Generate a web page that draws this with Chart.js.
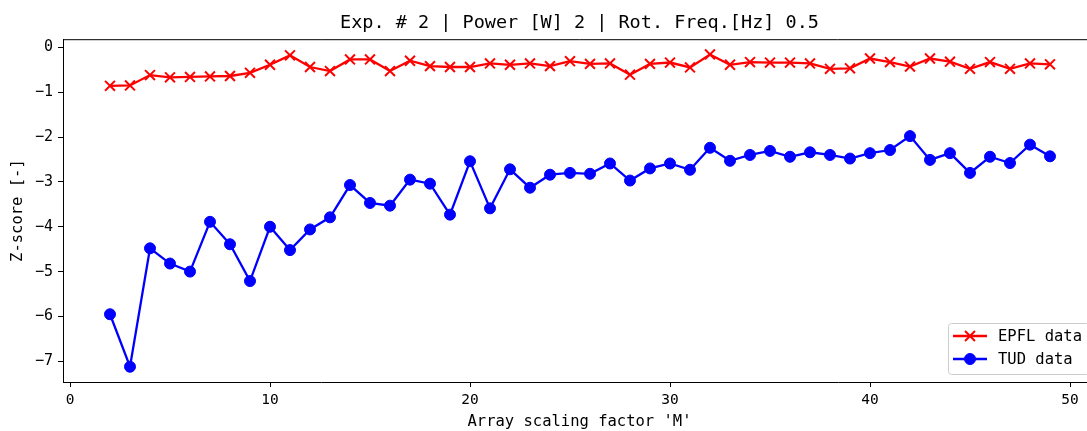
<!DOCTYPE html>
<html>
<head>
<meta charset="utf-8">
<script src="https://cdn.jsdelivr.net/npm/chart.js@4/dist/chart.umd.min.js"></script>
<style>
  html, body { margin: 0; padding: 0; background: #fff; overflow: hidden; }
  #zChart { display: block; }
</style>
</head>
<body>
<!-- canvas is a bit wider than the window: the original axes run past the right edge -->
<canvas id="zChart" width="1105" height="431"></canvas>
<script>
// scaling factor M (x values)
const mValues = [2, 3, 4, 5, 6, 7, 8, 9, 10, 11, 12, 13, 14, 15, 16, 17, 18, 19, 20, 21, 22, 23, 24, 25,
                 26, 27, 28, 29, 30, 31, 32, 33, 34, 35, 36, 37, 38, 39, 40, 41, 42, 43, 44, 45, 46, 47, 48, 49];

// z-scores
const epflScores = [-0.86, -0.85, -0.62, -0.67, -0.66, -0.65, -0.64, -0.57, -0.39, -0.18, -0.44, -0.53,
                    -0.27, -0.27, -0.53, -0.30, -0.42, -0.44, -0.44, -0.36, -0.39, -0.36, -0.42, -0.31,
                    -0.37, -0.36, -0.61, -0.37, -0.34, -0.45, -0.16, -0.39, -0.33, -0.34, -0.34, -0.36,
                    -0.48, -0.47, -0.25, -0.33, -0.43, -0.25, -0.32, -0.48, -0.33, -0.48, -0.36, -0.38];
const tudScores = [-5.95, -7.12, -4.48, -4.82, -5.00, -3.89, -4.39, -5.21, -4.00, -4.52, -4.06, -3.79,
                   -3.07, -3.47, -3.53, -2.95, -3.04, -3.73, -2.54, -3.59, -2.72, -3.13, -2.84, -2.80,
                   -2.82, -2.59, -2.97, -2.70, -2.59, -2.73, -2.24, -2.53, -2.40, -2.31, -2.44, -2.34,
                   -2.40, -2.48, -2.36, -2.29, -1.98, -2.51, -2.36, -2.80, -2.44, -2.58, -2.17, -2.43];

const xTicks = [0, 10, 20, 30, 40, 50];
const yTicks = [0, -1, -2, -3, -4, -5, -6, -7];
const seriesNames = ['EPFL data', 'TUD data'];

const monoFont = "'DejaVu Sans Mono', monospace";

// turn two arrays into {x, y} points
function toPoints(xs, ys) {
    return xs.map((x, i) => ({ x: x, y: ys[i] }));
}

// draw top and right frame lines (matplotlib style box)
const framePlugin = {
    id: 'frame',
    afterDraw(chart) {
        const { ctx, chartArea } = chart;
        ctx.save();
        ctx.strokeStyle = '#000';
        ctx.lineWidth = 1;
        ctx.beginPath();
        ctx.moveTo(chartArea.left, chartArea.top + 0.5);
        ctx.lineTo(chartArea.right - 0.5, chartArea.top + 0.5);
        ctx.lineTo(chartArea.right - 0.5, chartArea.bottom);
        ctx.stroke();
        ctx.restore();
    }
};

// legend box in the lower right corner of the axes
const cornerLegend = {
    id: 'cornerLegend',
    afterDraw(chart) {
        const { ctx, chartArea } = chart;
        const boxLeft = chartArea.right - 148;
        const boxTop = chartArea.bottom - 59;
        const boxW = 141, boxH = 51;
        ctx.save();
        ctx.beginPath();
        ctx.roundRect(boxLeft + 0.5, boxTop + 0.5, boxW, boxH, 3);
        ctx.fillStyle = 'rgba(255,255,255,0.8)';
        ctx.fill();
        ctx.strokeStyle = '#cccccc';
        ctx.lineWidth = 1;
        ctx.stroke();

        chart.data.datasets.forEach((ds, i) => {
            const rowY = boxTop + 13 + i * 23;
            const x0 = boxLeft + 5, x1 = boxLeft + 39;
            ctx.strokeStyle = ds.borderColor;
            ctx.fillStyle = ds.borderColor;
            ctx.lineWidth = ds.borderWidth;
            ctx.beginPath();
            ctx.moveTo(x0, rowY);
            ctx.lineTo(x1, rowY);
            ctx.stroke();
            ctx.lineWidth = ds.pointBorderWidth;
            Chart.helpers.drawPoint(ctx, {
                pointStyle: ds.pointStyle,
                radius: ds.pointRadius,
                borderWidth: ds.pointBorderWidth
            }, (x0 + x1) / 2, rowY);
            ctx.fillStyle = '#000';
            ctx.font = '15.5px ' + monoFont;
            ctx.textBaseline = 'middle';
            ctx.textAlign = 'left';
            ctx.fillText(ds.label, boxLeft + 50, rowY + 1);
        });
        ctx.restore();
    }
};

const ctx = document.getElementById('zChart').getContext('2d');
const zChart = new Chart(ctx, {
    type: 'line',
    data: {
        datasets: [{
            label: seriesNames[0],
            data: toPoints(mValues, epflScores),
            borderColor: '#ff0000',
            backgroundColor: '#ff0000',
            borderWidth: 2.3,
            pointStyle: 'crossRot',
            pointRadius: 7,
            pointBorderWidth: 2,
            pointBorderColor: '#ff0000',
            pointBackgroundColor: '#ff0000',
            tension: 0
        }, {
            label: seriesNames[1],
            data: toPoints(mValues, tudScores),
            borderColor: '#0000ff',
            backgroundColor: '#0000ff',
            borderWidth: 2.3,
            pointStyle: 'circle',
            pointRadius: 5.5,
            pointBorderWidth: 1,
            pointBorderColor: '#0000ff',
            pointBackgroundColor: '#0000ff',
            tension: 0
        }]
    },
    options: {
        responsive: false,
        animation: false,
        devicePixelRatio: 1,
        layout: { padding: 0 },
        plugins: {
            legend: { display: false },
            tooltip: { enabled: false },
            title: {
                display: true,
                text: 'Exp. # 2 | Power [W] 2 | Rot. Freq.[Hz] 0.5',
                color: '#000',
                fullSize: false,
                font: { family: monoFont, size: 18.5, weight: 'normal' },
                padding: { top: 12, bottom: 5 }
            }
        },
        scales: {
            x: {
                type: 'linear',
                min: -0.35,
                max: 51.3,
                afterBuildTicks(scale) { scale.ticks = xTicks.map(v => ({ value: v })); },
                afterFit(scale) { scale.height = 49; },
                ticks: {
                    color: '#000',
                    font: { family: monoFont, size: 14.5 },
                    padding: 5,
                    maxRotation: 0
                },
                grid: {
                    display: true,
                    drawOnChartArea: false,
                    drawTicks: true,
                    tickLength: 5,
                    color: '#000'
                },
                border: { display: true, color: '#000', width: 1 },
                title: {
                    display: true,
                    text: "Array scaling factor 'M'",
                    color: '#000',
                    font: { family: monoFont, size: 15.5 },
                    padding: { top: 0, bottom: 0 }
                }
            },
            y: {
                type: 'linear',
                min: -7.46,
                max: 0.18,
                afterBuildTicks(scale) { scale.ticks = yTicks.map(v => ({ value: v })); },
                afterFit(scale) { scale.width = 63; },
                ticks: {
                    color: '#000',
                    font: { family: monoFont, size: 15 },
                    padding: 5,
                    callback: v => (v < 0 ? '\u2212' + Math.abs(v) : String(v))
                },
                grid: {
                    display: true,
                    drawOnChartArea: false,
                    drawTicks: true,
                    tickLength: 5,
                    color: '#000'
                },
                border: { display: true, color: '#000', width: 1 },
                title: {
                    display: true,
                    text: 'Z-score [-]',
                    color: '#000',
                    font: { family: monoFont, size: 15.5 },
                    padding: { top: 9, bottom: 0 }
                }
            }
        }
    },
    plugins: [framePlugin, cornerLegend]
});
</script>
</body>
</html>
